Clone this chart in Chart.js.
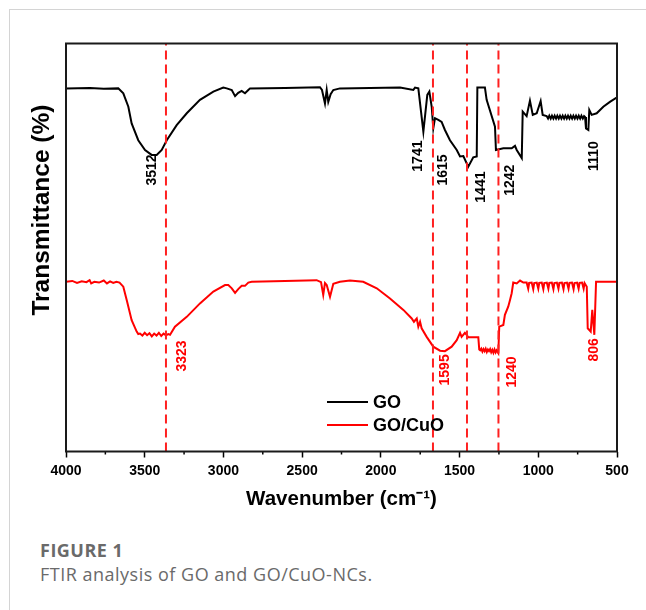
<!DOCTYPE html>
<html>
<head>
<meta charset="utf-8">
<script src="https://cdn.jsdelivr.net/npm/chart.js@4.4.1/dist/chart.umd.min.js"></script>
<style>
html,body{margin:0;padding:0;background:#fff;}
#wrap{position:relative;width:646px;height:610px;overflow:hidden;background:#fff;}
#frameTop{position:absolute;left:9px;top:9px;width:637px;height:0;border-top:1px solid #d4d4d4;}
#frameLeft{position:absolute;left:9px;top:9px;width:0;height:601px;border-left:1px solid #d4d4d4;}
#cv{position:absolute;left:0;top:0;}
.cap1{position:absolute;left:40px;top:538px;font:700 18px "Open Sans",sans-serif;letter-spacing:0.5px;color:#6a6a6a;white-space:nowrap;}
.cap2{position:absolute;left:40px;top:562px;font:400 18px "Open Sans",sans-serif;letter-spacing:0.5px;color:#6a6a6a;white-space:nowrap;}
</style>
</head>
<body>
<div id="wrap">
  <div id="frameTop"></div>
  <div id="frameLeft"></div>
  <canvas id="cv" width="646" height="530"></canvas>
  <div class="cap1">FIGURE 1</div>
  <div class="cap2">FTIR analysis of GO and GO/CuO-NCs.</div>
</div>
<script>
// ---- data ----
const goWavenumber = [4000,3848,3760,3668,3636,3604,3583,3541,3498,3456,3424,3392,3360,3297,3233,3149,3064,3001,2979,2947,2926,2906,2884,2863,2842,2831,2609,2387,2374,2355,2344,2334,2319,2302,2260,1878,1794,1783,1762,1730,1705,1692,1677,1667,1656,1635,1614,1593,1561,1518,1497,1476,1445,1413,1391,1387,1339,1328,1275,1269,1222,1169,1148,1137,1105,1099,1074,1053,1035,1010,985,972,947,938,930,921,913,904,896,887,879,870,862,853,845,836,828,819,811,802,794,785,777,768,760,751,743,734,726,717,709,703,697,682,676,661,629,587,545,500];
const goTransmittance = [89.0,89.1,88.9,89.0,87.8,84.5,80.4,76.3,73.9,72.7,72.7,73.9,76.3,80.0,82.9,86.2,88.2,89.2,89.0,88.6,87.1,87.9,88.4,87.8,88.6,89.0,89.1,89.3,88.6,85.3,88.6,85.7,87.6,88.6,89.0,89.2,88.6,89.2,89.0,78.4,87.4,88.2,84.5,79.2,81.7,81.3,80.8,78.8,76.3,73.9,72.3,72.4,69.8,72.1,72.3,89.2,89.2,86.2,79.6,73.9,74.3,74.3,74.9,73.9,71.9,83.3,82.2,86.0,82.5,82.9,85.9,82.5,82.2,81.6,82.3,81.6,82.3,81.6,82.3,81.6,82.3,81.6,82.3,81.6,82.3,81.6,82.3,81.6,82.3,81.6,82.3,81.6,82.3,81.6,82.3,81.6,82.3,81.6,82.3,81.6,82.2,82.0,79.2,78.8,83.7,82.5,82.9,84.5,85.7,86.8];

const cuoWavenumber = [4000,3960,3930,3900,3870,3850,3840,3820,3790,3760,3740,3720,3700,3680,3660,3636,3614,3583,3551,3541,3530,3515,3500,3485,3470,3455,3440,3425,3410,3395,3380,3365,3350,3339,3308,3233,3149,3064,2990,2969,2947,2926,2906,2884,2863,2842,2820,2609,2408,2380,2366,2355,2344,2323,2302,2260,2196,2112,2026,1942,1857,1804,1790,1772,1762,1751,1741,1709,1667,1624,1593,1550,1518,1497,1487,1466,1455,1445,1381,1375,1369,1362,1355,1348,1341,1334,1327,1320,1313,1306,1299,1292,1285,1278,1271,1265,1254,1248,1222,1212,1191,1180,1169,1159,1137,1116,1095,1074,1064,1058,1042,1032,1026,1010,1000,994,978,968,962,946,936,930,914,904,898,882,872,866,850,840,834,818,808,802,786,776,770,754,744,738,722,712,706,692,686,667,657,644,633,500];
const cuoTransmittance = [41.6,41.8,41.3,41.7,41.5,42.0,41.2,41.6,41.4,41.9,41.2,41.7,41.3,41.6,41.4,40.4,37.1,32.2,29.4,28.8,28.9,28.4,29.1,28.5,29.0,28.2,28.9,28.4,29.1,28.3,28.9,28.5,28.8,28.6,30.6,33.0,36.3,39.2,40.8,40.8,40.0,38.9,39.8,40.6,40.6,41.4,41.6,41.8,42.0,41.5,38.4,41.3,40.8,37.9,41.1,41.6,41.9,41.6,40.0,37.5,34.7,32.6,31.8,32.6,30.6,31.8,30.2,28.1,25.7,24.7,24.6,25.7,27.3,29.1,28.1,29.1,28.6,28.0,28.0,25.0,24.8,25.2,24.5,25.1,24.6,25.2,24.4,25.0,24.6,25.1,24.3,24.9,24.2,25.0,24.3,24.8,24.1,30.6,31.0,33.5,35.5,37.1,38.8,41.4,41.2,41.9,41.4,41.4,39.9,41.3,41.4,39.8,41.3,41.4,39.9,41.3,41.4,39.8,41.3,41.4,39.9,41.3,41.4,39.8,41.3,41.4,39.9,41.3,41.4,39.8,41.3,41.4,39.9,41.3,41.4,39.8,41.3,41.4,39.9,41.3,41.4,39.9,41.3,40.4,30.2,29.4,34.7,28.6,41.6,41.6];

// red dashed reference lines (cm-1)
const markerLines = [3365, 1669, 1453, 1253];

// peak annotations: text, drawn-at wavenumber, drawn-at transmittance
const goPeakLabels = ['3512','1741','1615','1441','1242','1110'];
const goPeakX = [3454, 1764, 1605, 1364, 1180, 646];
const goPeakY = [69.0, 72.4, 69.0, 64.8, 66.5, 72.4];
const cuoPeakLabels = ['3323','1595','1240','806'];
const cuoPeakX = [3263, 1593, 1167, 646];
const cuoPeakY = [23.4, 20.0, 19.5, 24.9];

const xTicks = [4000,3500,3000,2500,2000,1500,1000,500];
const xMinorTicks = [3750,3250,2750,2250,1750,1250,750];
const seriesNames = ['GO','GO/CuO'];

// ---- build chart ----
const toXY = (xs, ys) => xs.map((x, i) => ({x: x, y: ys[i]}));
const datasets = [];
markerLines.forEach(w => datasets.push({
  data: [{x: w, y: 0}, {x: w, y: 100}],
  borderColor: '#ff2020', borderWidth: 2, borderDash: [9, 5],
  pointRadius: 0, fill: false, order: 0
}));
datasets.push({label: seriesNames[0], data: toXY(goWavenumber, goTransmittance),
  borderColor: '#000000', borderWidth: 2, pointRadius: 0, fill: false, tension: 0, order: 1});
datasets.push({label: seriesNames[1], data: toXY(cuoWavenumber, cuoTransmittance),
  borderColor: '#ff0000', borderWidth: 2, pointRadius: 0, fill: false, tension: 0, order: 1});

const decorPlugin = {
  id: 'decor',
  afterDraw(chart) {
    const ctx = chart.ctx;
    const a = chart.chartArea;
    const xs = chart.scales.x, ys = chart.scales.y;
    ctx.save();
    // minor ticks
    ctx.strokeStyle = '#000'; ctx.lineWidth = 1.5;
    xMinorTicks.forEach(v => {
      const px = xs.getPixelForValue(v);
      ctx.beginPath(); ctx.moveTo(px, a.bottom); ctx.lineTo(px, a.bottom + 3); ctx.stroke();
    });
    // frame
    ctx.lineWidth = 2; ctx.strokeStyle = '#1a1a1a';
    ctx.strokeRect(a.left, a.top, a.right - a.left, a.bottom - a.top);
    // peak labels
    const drawLabels = (texts, wx, ty, color) => {
      ctx.fillStyle = color;
      ctx.font = 'bold 14px "Liberation Sans", Arial, sans-serif';
      ctx.textAlign = 'center'; ctx.textBaseline = 'middle';
      texts.forEach((t, i) => {
        ctx.save();
        ctx.translate(xs.getPixelForValue(wx[i]), ys.getPixelForValue(ty[i]));
        ctx.rotate(-Math.PI / 2);
        ctx.fillText(t, 0, 0);
        ctx.restore();
      });
    };
    drawLabels(goPeakLabels, goPeakX, goPeakY, '#000');
    drawLabels(cuoPeakLabels, cuoPeakX, cuoPeakY, '#ff0000');
    // legend
    const lx = a.left + 261, ly = 402;
    ctx.font = 'bold 18px "Liberation Sans", Arial, sans-serif';
    ctx.textAlign = 'left'; ctx.textBaseline = 'middle';
    [['#000', seriesNames[0]], ['#ff0000', seriesNames[1]]].forEach((it, i) => {
      const yy = ly + i * 23;
      ctx.strokeStyle = it[0]; ctx.lineWidth = 2;
      ctx.beginPath(); ctx.moveTo(lx, yy); ctx.lineTo(lx + 41, yy); ctx.stroke();
      ctx.fillStyle = '#000';
      ctx.fillText(it[1], lx + 46, yy + 1);
    });
    ctx.restore();
  }
};

new Chart(document.getElementById('cv'), {
  type: 'line',
  data: {datasets: datasets},
  plugins: [decorPlugin],
  options: {
    responsive: false,
    animation: false,
    events: [],
    layout: {padding: {left: 0, top: 43.5, right: 29, bottom: 0}},
    plugins: {legend: {display: false}, tooltip: {enabled: false}},
    scales: {
      x: {
        type: 'linear', reverse: true, min: 500, max: 4000,
        afterBuildTicks: s => { s.ticks = xTicks.map(v => ({value: v})); },
        ticks: {
          autoSkip: false, maxRotation: 0, padding: 5, color: '#000',
          font: {family: '"Liberation Sans", Arial, sans-serif', size: 14, weight: 'bold'},
          callback: v => String(v)
        },
        grid: {drawOnChartArea: false, drawTicks: true, tickLength: 6, tickColor: '#000', tickWidth: 1.5},
        border: {display: false},
        title: {
          display: true, text: 'Wavenumber (cm⁻¹)', color: '#000',
          font: {family: '"Liberation Sans", Arial, sans-serif', size: 20.5, weight: 'bold'},
          padding: {top: 0, bottom: 18}
        },
        afterFit: s => { s.height = 78.5; }
      },
      y: {
        min: 0, max: 100,
        ticks: {display: false},
        grid: {display: false, drawTicks: false},
        border: {display: false},
        title: {
          display: true, text: '           Transmittance (%)', color: '#000',
          font: {family: '"Liberation Sans", Arial, sans-serif', size: 24.5, weight: 'bold'},
          padding: {top: 28, bottom: 0}
        },
        afterFit: s => { s.width = 66; }
      }
    }
  }
});
</script>
</body>
</html>
